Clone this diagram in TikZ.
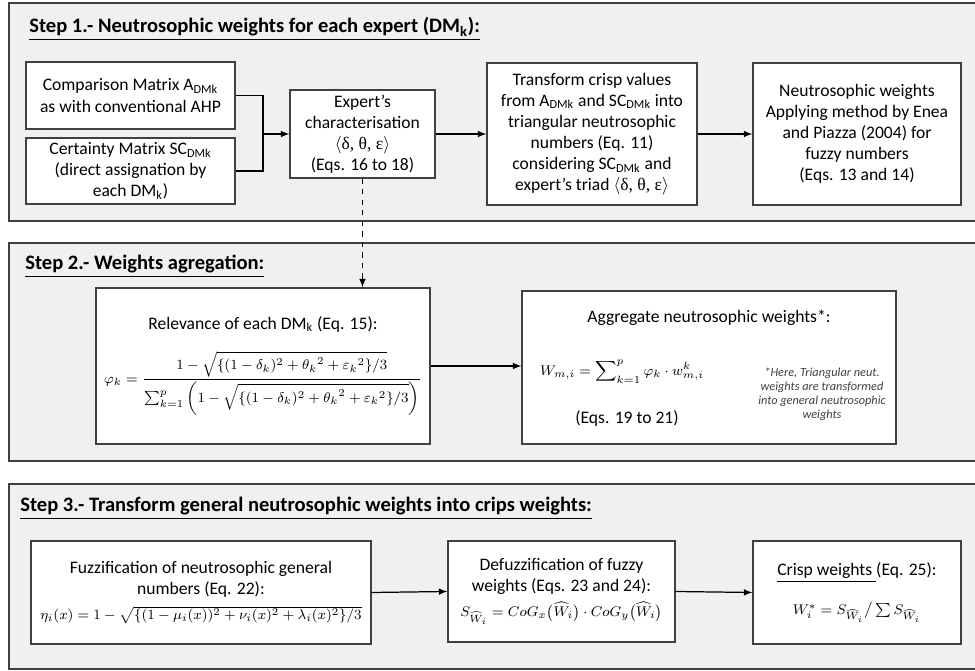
\documentclass[tikz,border=0pt]{standalone}
\usepackage{amsmath}
\usepackage{amssymb}
\usepackage[no-math]{fontspec}
\setmainfont{Carlito}
\newfontfamily\grk{Liberation Serif}
\usetikzlibrary{arrows}

\newcommand{\fmsize}{\fontsize{8}{9.6}\selectfont}

\begin{document}
\begin{tikzpicture}[x=0.02cm,y=-0.02cm,
    panel/.style={draw=black!75,line width=1.1pt,fill=gray!12},
    box/.style={draw=black!75,line width=0.7pt,fill=white,align=center,inner sep=2pt,
        font=\fontsize{10}{12}\selectfont},
    ttl/.style={anchor=base west,inner sep=0pt,font=\fontsize{11.7}{14}\selectfont\bfseries},
    txt/.style={inner sep=0pt,align=center,font=\fontsize{10}{12}\selectfont}]
        \useasboundingbox (0,0) rectangle (975,671);
        % the three steps
        \draw[panel] (9,3) rectangle (980,221);
        \draw[panel] (9,243) rectangle (980,461);
        \draw[panel] (9,484) rectangle (980,669);
        \node[ttl] (t1) at (29,33) {\underline{Step 1.- Neutrosophic weights for each expert (DM\textsubscript{k}):}};
        \node[ttl] (t2) at (25,270) {\underline{Step 2.- Weights agregation:}};
        \node[ttl] (t3) at (20,512) {\underline{Step 3.- Transform general neutrosophic weights into crips weights:}};

        % step 1
        \node[box,minimum width=4.18cm,minimum height=1.34cm] (cmpA) at (130.5,95.5)
            {Comparison Matrix A\textsubscript{DMk}\\as with conventional AHP};
        \node[box,minimum width=4.18cm,minimum height=1.32cm] (certSC) at (130.5,171)
            {Certainty Matrix SC\textsubscript{DMk}\\(direct assignation by\\each DM\textsubscript{k})};
        \node[box,minimum width=2.9cm,minimum height=1.76cm] (expert) at (362.5,134)
            {Expert’s\\characterisation\\$\langle${\grk δ, θ, ε}$\rangle$\\(Eqs. 16 to 18)};
        \node[box,minimum width=4.2cm,minimum height=2.84cm] (transf) at (592,134)
            {Transform crisp values\\from A\textsubscript{DMk} and SC\textsubscript{DMk} into\\triangular neutrosophic\\numbers (Eq. 11)\\considering SC\textsubscript{DMk} and\\expert’s triad $\langle${\grk δ, θ, ε}$\rangle$};
        \node[box,minimum width=4.16cm,minimum height=2.84cm] (neutw) at (857,134)
            {Neutrosophic weights\\Applying method by Enea\\and Piazza (2004) for\\fuzzy numbers\\(Eqs. 13 and 14)};
        \coordinate (join) at (263,134);
        \draw[line width=0.7pt] (cmpA.east) -| (join) |- (certSC.east);
        \draw[-latex,line width=0.7pt] (join) -- (expert.west);
        \draw[-latex,line width=0.7pt] (expert.east) -- (transf.west);
        \draw[-latex,line width=0.7pt] (transf.east) -- (neutw.west);

        % step 2
        \node[box,minimum width=6.68cm,minimum height=3.12cm] (relev) at (263,366)
            {Relevance of each DM\textsubscript{k} (Eq. 15):\\[10pt]
            {\fmsize$\varphi_k=\dfrac{1-\sqrt{\{(1-\delta_k)^2+{\theta_k}^2+{\varepsilon_k}^2\}/3}}
            {\sum_{k=1}^{p}\left(1-\sqrt{\{(1-\delta_k)^2+{\theta_k}^2+{\varepsilon_k}^2\}/3}\right)}$}};
        \node[box,minimum width=7.48cm,minimum height=3.06cm] (aggr) at (709,367.5) {};
        \node[txt] (aggrT) at (709,318) {Aggregate neutrosophic weights*:};
        \node[txt] (aggrF) at (622,372) {\fmsize$\displaystyle W_{m,i}=\sum\nolimits_{k=1}^{p}\varphi_k\cdot w_{m,i}^{k}$};
        \node[txt] (aggrE) at (627,418) {(Eqs. 19 to 21)};
        \node[txt,text=black!75,font=\fontsize{7}{8}\selectfont\itshape] (aggrN) at (822,394)
            {*Here, Triangular neut.\\weights are transformed\\into general neutrosophic\\weights};
        \draw[-latex,dashed,line width=0.7pt] (expert.south) -- (expert.south |- relev.north);
        \draw[-latex,line width=0.7pt] (relev.east) -- (relev.east -| aggr.west);

        % step 3
        \node[box,minimum width=6.8cm,minimum height=2.06cm] (fuzz) at (201,592.5)
            {Fuzzification of neutrosophic general\\numbers (Eq. 22):\\[2pt]
            {\fmsize$\eta_i(x)=1-\sqrt{\{(1-\mu_i(x))^2+\nu_i(x)^2+\lambda_i(x)^2\}/3}$}};
        \node[box,minimum width=4.54cm,minimum height=2.02cm] (defuzz) at (561.5,591.5)
            {Defuzzification of fuzzy\\weights (Eqs. 23 and 24):\\[2pt]
            {\fmsize$S_{\widehat{W}_i}=CoG_x\bigl(\widehat{W}_i\bigr)\cdot CoG_y\bigl(\widehat{W}_i\bigr)$}};
        \node[box,minimum width=4.16cm,minimum height=2.06cm] (crisp) at (857,592.5)
            {\underline{Crisp weights }(Eq. 25):\\[10pt]
            {\fmsize$W_i^{*}=S_{\widehat{W}_i}\big/\sum S_{\widehat{W}_i}$}};
        \draw[-latex,line width=0.7pt] (fuzz.east) -- (defuzz.west);
        \draw[-latex,line width=0.7pt] (defuzz.east) -- (crisp.west);
    \end{tikzpicture}
\end{document}
